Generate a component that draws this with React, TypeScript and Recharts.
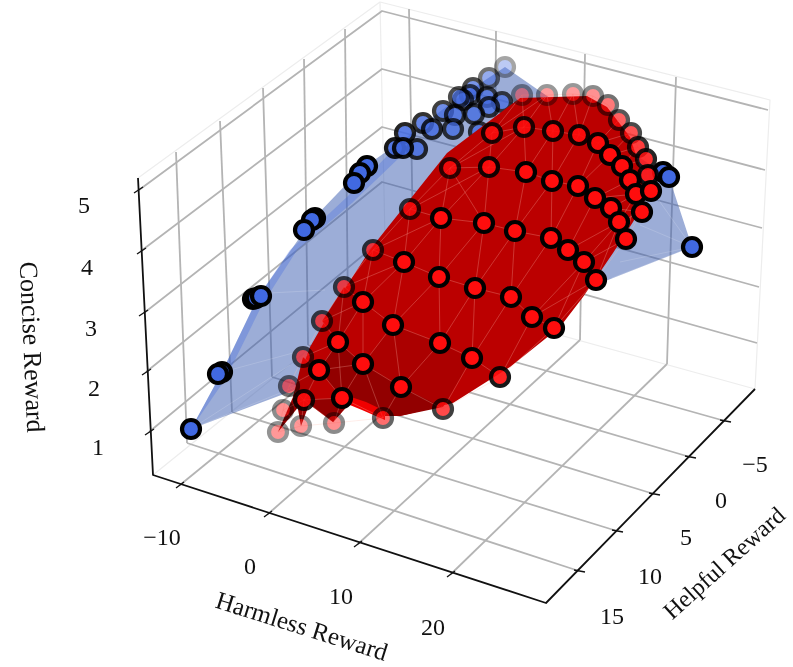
import { ScatterChart, Scatter, XAxis, YAxis } from 'recharts';

// All values live in the picture plane of the projected 3D axes (x right, y down)
type P = [number, number];

const W = 793;
const H = 667;

const zTickLabels = ['1', '2', '3', '4', '5'];
const zTickAt: P[] = [[98, 447], [94, 388], [91, 328], [87, 267], [84, 205]];
const harmlessLabels = ['\u221210', '0', '10', '20'];
const harmlessAt: P[] = [[162, 537], [250, 566], [341, 596], [433, 627]];
const helpfulLabels = ['\u22125', '0', '5', '10', '15'];
const helpfulAt: P[] = [[755, 464], [721, 500], [686, 537], [650, 576], [612, 616]];

const paneEdges: P[][] = [
  [[138, 178], [380, 2], [770, 100], [755, 389], [386, 287], [153, 475]],
  [[380, 2], [386, 287]],
];

const gridLines: P[][] = [
  // walls, constant concise reward
  [[149, 432], [384, 238], [757, 343]],
  [[146, 372], [382, 182], [759, 287]],
  [[144, 313], [382, 127], [762, 228]],
  [[141, 251], [382, 69], [765, 170]],
  [[139, 190], [382, 11], [768, 110]],
  // left wall uprights
  [[176, 152], [187, 443]],
  [[220, 121], [232, 412]],
  [[263, 88], [272, 377]],
  [[304, 59], [308, 345]],
  [[345, 29], [348, 315]],
  // back wall uprights
  [[409, 9], [414, 294]],
  [[496, 31], [494, 316]],
  [[585, 54], [580, 340]],
  [[676, 77], [667, 364]],
  // floor
  [[180, 485], [414, 294]],
  [[268, 514], [494, 316]],
  [[358, 544], [580, 340]],
  [[451, 574], [667, 364]],
  [[579, 571], [187, 443]],
  [[617, 531], [232, 412]],
  [[654, 494], [272, 377]],
  [[690, 457], [308, 345]],
  [[725, 421], [348, 315]],
];

const axisLines: P[][] = [
  [[138, 178], [153, 475], [546, 603], [755, 389]],
];

const axisTicks: P[][] = [
  [[134, 193], [143, 187]], [[137, 254], [146, 248]], [[139, 316], [148, 310]], [[142, 375], [151, 369]], [[145, 435], [154, 429]],
  [[176, 488], [184, 482]], [[264, 517], [272, 511]], [[354, 547], [362, 541]], [[447, 577], [455, 571]],
  [[574, 570], [585, 572]], [[612, 530], [623, 532]], [[649, 493], [660, 495]], [[685, 456], [696, 458]], [[720, 420], [731, 422]],
];

const blueOutline: P[] = [
  [191, 429], [222, 372], [258, 297], [312, 220], [360, 170], [403, 140], [455, 100], [505, 67], [560, 105],
  [669, 177], [692, 247], [608, 280], [450, 320], [300, 388],
];
const blueBand: P[] = [
  [191, 429], [222, 372], [258, 297], [290, 250], [347, 197], [390, 153], [400, 157], [352, 203], [297, 250], [262, 305], [226, 378],
];
const blueWires: P[][] = [
  [[191, 429], [300, 385]], [[230, 370], [293, 353]], [[270, 293], [325, 290]], [[191, 429], [290, 365]],
  [[692, 247], [620, 262]], [[692, 247], [640, 225]], [[692, 247], [655, 195]], [[692, 247], [612, 278]],
];

const bluePoints: P[] = [
  [505, 67], [489, 78], [473, 88], [470, 95], [463, 100], [459, 97], [487, 97], [443, 111], [502, 102], [489, 107],
  [455, 115], [474, 114], [423, 123], [432, 129], [453, 129], [479, 132], [405, 133], [395, 148], [417, 149], [403, 148],
  [367, 166], [360, 173], [354, 183], [315, 218], [312, 220], [304, 230], [253, 299], [256, 298], [261, 296],
  [222, 372], [218, 374], [191, 429], [663, 172], [669, 177], [692, 247],
];
const blueAlpha: number[] = [
  0.35, 0.55, 0.7, 0.7, 0.7, 0.7, 0.7, 0.75, 0.7, 0.75,
  0.75, 0.75, 0.8, 0.8, 0.75, 0.75, 0.85, 0.9, 0.8, 0.9,
  1, 1, 1, 1, 1, 1, 1, 1, 1,
  1, 1, 1, 1, 1, 1,
];

const redOutline: P[] = [
  [520, 98], [587, 96], [607, 107], [630, 137], [640, 167], [645, 200], [633, 222], [613, 253], [583, 297], [560, 327],
  [510, 367], [453, 403], [400, 416], [370, 412], [350, 403], [333, 422], [317, 410], [303, 400], [293, 397], [298, 380],
  [310, 347], [333, 307], [370, 250], [380, 237], [447, 153],
];
const redDarkPatches: P[][] = [
  [[363, 364], [401, 387], [383, 416], [342, 398]],
  [[401, 387], [443, 407], [400, 416], [383, 416]],
  [[338, 342], [363, 364], [342, 398], [319, 370]],
  [[304, 400], [342, 398], [350, 403], [333, 422], [317, 410]],
  [[293, 397], [304, 400], [278, 432]],
  [[296, 398], [310, 402], [301, 426]],
];
const redMidPatches: P[][] = [
  [[363, 364], [393, 325], [440, 343], [401, 387]],
  [[344, 287], [363, 302], [338, 342], [322, 321]],
  [[401, 387], [440, 343], [472, 358], [443, 407]],
  [[303, 357], [319, 370], [304, 400], [293, 397]],
];
const redBrightStrip: P[] = [[342, 394], [366, 402], [385, 411], [385, 420], [362, 410], [345, 403]];

const redRows: P[][] = [
  [[522, 95], [547, 95], [573, 94], [593, 96], [608, 105], [619, 120], [631, 133], [638, 147], [646, 159], [648, 175], [651, 191]],
  [[492, 133], [524, 127], [553, 131], [579, 135], [598, 143], [610, 155], [622, 166], [630, 180], [636, 194], [642, 212]],
  [[450, 168], [489, 167], [526, 172], [552, 181], [578, 186], [595, 198], [611, 208], [619, 222], [626, 239]],
  [[410, 209], [441, 218], [484, 223], [515, 231], [551, 238], [568, 250], [584, 262], [596, 280]],
  [[373, 250], [404, 262], [439, 277], [475, 288], [511, 297], [532, 317], [554, 328]],
  [[344, 287], [363, 302], [393, 325], [440, 343], [472, 358], [500, 377]],
  [[322, 321], [338, 342], [363, 364], [401, 387], [443, 409]],
  [[303, 357], [319, 370], [342, 398], [383, 418]],
  [[289, 386], [304, 400], [334, 423]],
  [[283, 410], [301, 426]],
  [[278, 432]],
];
const redAlpha: number[][] = [
  [0.4, 0.4, 0.4, 0.45, 0.55, 0.65, 0.7, 0.8, 0.85, 0.9, 1],
  [0.85, 0.85, 0.9, 0.9, 0.95, 1, 1, 1, 1, 1],
  [0.75, 0.9, 1, 1, 1, 1, 1, 1, 1],
  [0.75, 1, 1, 1, 1, 1, 1, 1],
  [0.75, 1, 1, 1, 1, 1, 1],
  [0.7, 1, 1, 1, 1, 0.9],
  [0.7, 1, 1, 1, 0.75],
  [0.65, 1, 1, 0.6],
  [0.55, 0.85, 0.45],
  [0.45, 0.42],
  [0.42],
];

const toData = (pts: P[]) => pts.map(([x, y]) => ({ x, y }));
const noMark = () => <g />;

// connects each point of a row to its two closest neighbours in the row above
function meshLinks(rows: P[][]): P[][] {
  const links: P[][] = [];
  rows.forEach((row, r) => {
    row.forEach((p, i) => {
      if (i > 0) links.push([row[i - 1], p]);
      if (r === 0) return;
      const near = [...rows[r - 1]].sort((a, b) => Math.hypot(a[0] - p[0], a[1] - p[1]) - Math.hypot(b[0] - p[0], b[1] - p[1]));
      links.push([p, near[0]], [p, near[1]]);
    });
  });
  return links;
}

function path(key: string, pts: P[], stroke: string, width: number, opacity = 1) {
  return (
    <Scatter
      key={key}
      data={toData(pts)}
      isAnimationActive={false}
      shape={noMark}
      line={(p: any) => (
        <polyline
          points={p.points.map((q: any) => `${q.x},${q.y}`).join(' ')}
          fill="none"
          stroke={stroke}
          strokeWidth={width}
          strokeOpacity={opacity}
          strokeLinejoin="round"
        />
      )}
    />
  );
}

function area(key: string, pts: P[], fill: string, opacity = 1) {
  return (
    <Scatter
      key={key}
      data={toData(pts)}
      isAnimationActive={false}
      shape={noMark}
      line={(p: any) => (
        <polygon points={p.points.map((q: any) => `${q.x},${q.y}`).join(' ')} fill={fill} fillOpacity={opacity} stroke="none" />
      )}
    />
  );
}

function label(key: string, at: P, text: string, size: number, angle = 0) {
  return (
    <Scatter
      key={key}
      data={toData([at])}
      isAnimationActive={false}
      shape={(p: any) => (
        <text
          x={p.cx}
          y={p.cy}
          textAnchor="middle"
          dominantBaseline="central"
          fontFamily="'Liberation Serif', serif"
          fontSize={size}
          fill="#111"
          transform={angle ? `rotate(${angle} ${p.cx} ${p.cy})` : undefined}
        >
          {text}
        </text>
      )}
    />
  );
}

function dots(key: string, pts: P[], alpha: number[], fill: string) {
  const data = pts.map(([x, y], i) => ({ x, y, alpha: alpha[i] }));
  return (
    <Scatter
      key={key}
      data={data}
      isAnimationActive={false}
      shape={(p: any) => (
        <circle cx={p.cx} cy={p.cy} r={9} fill={fill} stroke="#000" strokeWidth={4.2} opacity={p.payload?.alpha ?? p.alpha} />
      )}
    />
  );
}

export default function App() {
  const redPts = [...redRows].reverse().flat();
  const redA = [...redAlpha].reverse().flat();
  const order = redPts.map((_, i) => i).sort((a, b) => redA[a] - redA[b]);

  return (
    <div style={{ position: 'fixed', left: 0, top: 0, width: W, height: H, background: '#fff', filter: 'blur(0.6px)' }}>
      <ScatterChart width={W} height={H} margin={{ top: 0, right: 0, bottom: 0, left: 0 }}>
        <XAxis type="number" dataKey="x" domain={[0, W]} hide />
        <YAxis type="number" dataKey="y" domain={[0, H]} reversed hide />

        {paneEdges.map((e, i) => path(`pane${i}`, e, '#ededed', 1.2))}
        {gridLines.map((g, i) => path(`grid${i}`, g, '#b4b4b4', 1.8))}
        {axisLines.map((a, i) => path(`axis${i}`, a, '#111', 1.8))}
        {axisTicks.map((t, i) => path(`tick${i}`, t, '#111', 1.3))}

        {area('blueSurface', blueOutline, '#3a5cb0', 0.5)}
        {area('blueEdge', blueBand, '#4169e1', 0.32)}
        {blueWires.map((w, i) => path(`blueWire${i}`, w, '#ffffff', 0.8, 0.2))}
        {dots('bluePoints', bluePoints, blueAlpha, '#4169e1')}

        {area('redSurface', redOutline, '#bb0000')}
        {redMidPatches.map((r, i) => area(`redMid${i}`, r, '#ab0000'))}
        {redDarkPatches.map((r, i) => area(`redDark${i}`, r, '#920000'))}
        {area('redStrip', redBrightStrip, '#f00000')}
        {meshLinks(redRows).map((w, i) => path(`redWire${i}`, w, '#ffc0b0', 0.7, 0.4))}
        {dots('redPoints', order.map(i => redPts[i]), order.map(i => redA[i]), '#ff0d0d')}

        {zTickLabels.map((t, i) => label(`z${t}`, zTickAt[i], t, 24))}
        {harmlessLabels.map((t, i) => label(`x${t}`, harmlessAt[i], t, 24))}
        {helpfulLabels.map((t, i) => label(`y${t}`, helpfulAt[i], t, 24))}
        {label('zTitle', [32, 347], 'Concise Reward', 26, 87.5)}
        {label('xTitle', [302, 626], 'Harmless Reward', 25, 17.5)}
        {label('yTitle', [724, 563], 'Helpful Reward', 24, -42)}
      </ScatterChart>
    </div>
  );
}
